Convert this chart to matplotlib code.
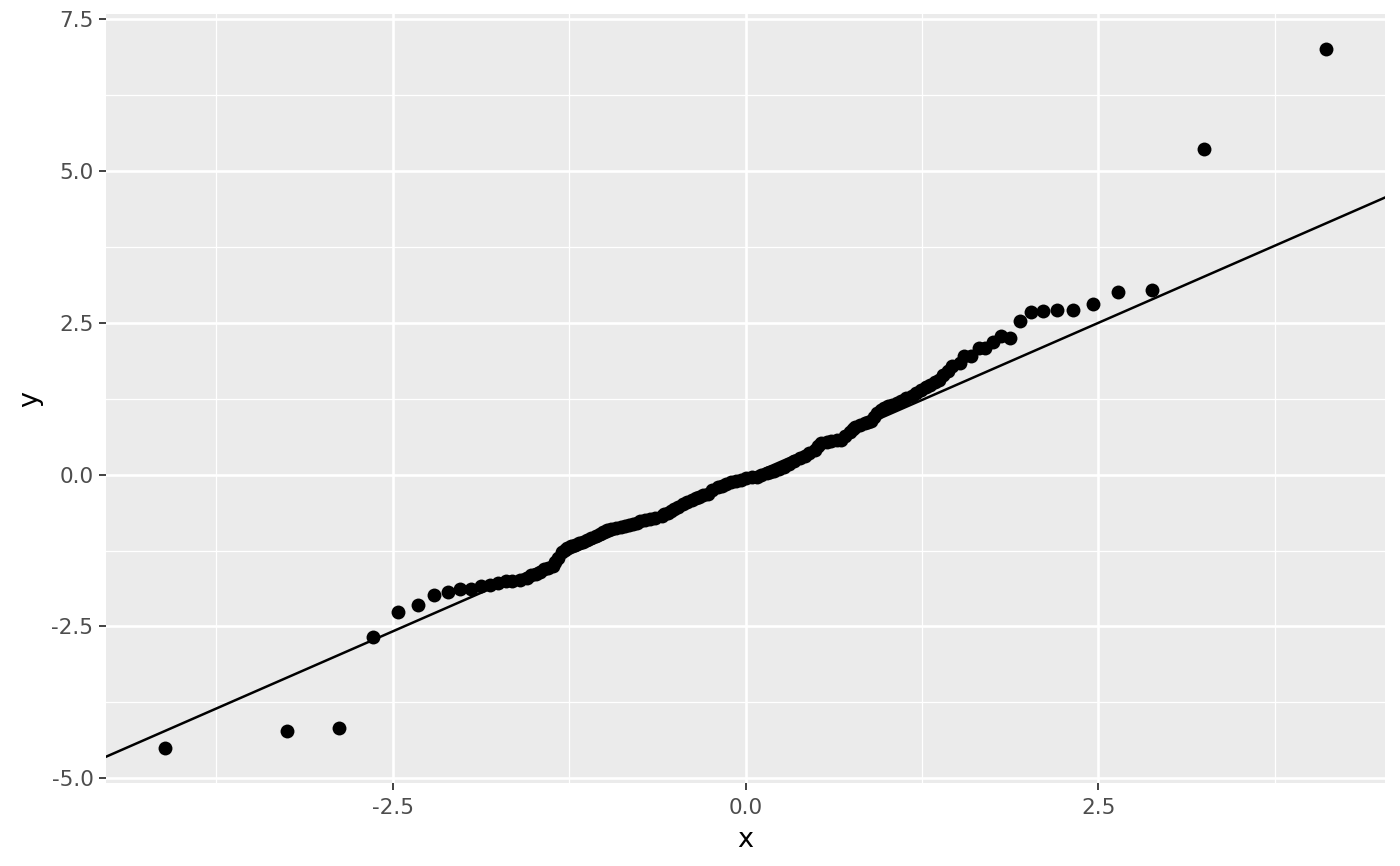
import matplotlib
matplotlib.use("Agg")
import matplotlib.pyplot as plt
import numpy as np

plt.rcParams['axes.unicode_minus'] = False
plt.rcParams['font.family'] = ['DejaVu Sans']

# theoretical quantiles (x) and sample quantiles (y)
theoretical = [
    -4.115, -3.251, -2.877, -2.640, -2.460, -2.321, -2.205, -2.108, -2.021, -1.943,
    -1.875, -1.811, -1.751, -1.700, -1.652, -1.598, -1.551, -1.516, -1.485, -1.459,
    -1.430, -1.402, -1.367, -1.348, -1.331, -1.303, -1.280, -1.261, -1.236, -1.211,
    -1.182, -1.154, -1.120, -1.091, -1.060, -1.034, -1.010, -0.984, -0.950, -0.914,
    -0.885, -0.857, -0.828, -0.800, -0.772, -0.744, -0.712, -0.680, -0.640, -0.595,
    -0.574, -0.552, -0.528, -0.503, -0.475, -0.446, -0.414, -0.382, -0.354, -0.326,
    -0.298, -0.269, -0.234, -0.198, -0.166, -0.135, -0.100, -0.064, -0.030, 0.007,
    0.043, 0.078, 0.113, 0.149, 0.177, 0.205, 0.240, 0.276, 0.311, 0.347,
    0.383, 0.418, 0.453, 0.489, 0.513, 0.538, 0.574, 0.609, 0.645, 0.680,
    0.708, 0.737, 0.758, 0.779, 0.811, 0.843, 0.868, 0.892, 0.913, 0.935,
    0.960, 0.984, 1.012, 1.041, 1.073, 1.105, 1.140, 1.176, 1.211, 1.246,
    1.278, 1.310, 1.342, 1.374, 1.402, 1.431, 1.466, 1.516, 1.551, 1.598,
    1.652, 1.700, 1.751, 1.811, 1.875, 1.943, 2.021, 2.108, 2.205, 2.321,
    2.460, 2.640, 2.877, 3.251, 4.115,
]
sample = [
    -4.50, -4.23, -4.18, -2.67, -2.26, -2.15, -1.98, -1.93, -1.89, -1.88,
    -1.84, -1.81, -1.78, -1.75, -1.75, -1.73, -1.70, -1.66, -1.63, -1.60,
    -1.56, -1.53, -1.50, -1.44, -1.37, -1.28, -1.24, -1.20, -1.17, -1.15,
    -1.13, -1.11, -1.08, -1.05, -1.01, -0.97, -0.94, -0.91, -0.89, -0.87,
    -0.855, -0.84, -0.825, -0.81, -0.79, -0.77, -0.75, -0.73, -0.71, -0.68,
    -0.655, -0.63, -0.595, -0.56, -0.525, -0.49, -0.45, -0.41, -0.385, -0.36,
    -0.335, -0.31, -0.26, -0.21, -0.18, -0.15, -0.125, -0.10, -0.08, -0.06,
    -0.045, -0.03, -0.005, 0.02, 0.04, 0.06, 0.095, 0.13, 0.18, 0.23,
    0.27, 0.31, 0.36, 0.41, 0.47, 0.53, 0.545, 0.56, 0.57, 0.58,
    0.645, 0.71, 0.75, 0.79, 0.82, 0.85, 0.87, 0.89, 0.955, 1.02,
    1.06, 1.10, 1.125, 1.15, 1.185, 1.22, 1.26, 1.30, 1.35, 1.40,
    1.44, 1.48, 1.52, 1.56, 1.635, 1.71, 1.79, 1.84, 1.96, 1.95,
    2.09, 2.09, 2.18, 2.28, 2.26, 2.54, 2.68, 2.70, 2.71, 2.72,
    2.81, 3.01, 3.05, 5.37, 7.02,
]
# reference line through the quartiles
line_slope = 1.017
line_intercept = -0.04

x_ticks = [-2.5, 0.0, 2.5]
y_ticks = [-5.0, -2.5, 0.0, 2.5, 5.0, 7.5]

fig = plt.figure(figsize=(14, 8.66), dpi=100)
ax = fig.add_axes([0.0757, 0.0958, 0.9136, 0.888])
ax.set_facecolor('#EBEBEB')

ax.set_xlim(-4.53, 4.53)
ax.set_ylim(-5.08, 7.59)

# grid: major + minor in white
for v in [-3.75, -1.25, 1.25, 3.75]:
    ax.axvline(v, color='white', lw=0.9, zorder=0)
for v in [-3.75, -1.25, 1.25, 3.75, 6.25]:
    ax.axhline(v, color='white', lw=0.9, zorder=0)
for v in x_ticks:
    ax.axvline(v, color='white', lw=1.9, zorder=0)
for v in y_ticks:
    ax.axhline(v, color='white', lw=1.9, zorder=0)

ax.scatter(theoretical, sample, s=100, color='black', linewidths=0, zorder=3)
ax.axline((0, line_intercept), slope=line_slope, color='black', lw=1.8, zorder=2)

ax.set_xticks(x_ticks)
ax.set_yticks(y_ticks)
ax.set_xticklabels(['%.1f' % v for v in x_ticks])
ax.set_yticklabels(['%.1f' % v for v in y_ticks])
ax.tick_params(axis='both', length=5, width=1.3, color='#333333',
               labelcolor='#4D4D4D', labelsize=15.5, pad=4)
ax.tick_params(axis='x', pad=6)
for s in ax.spines.values():
    s.set_visible(False)

ax.set_xlabel('x', fontsize=19.5, color='black', labelpad=6)
ax.set_ylabel('y', fontsize=19.5, color='black', labelpad=6)

fig.savefig('out.png', dpi=100)
